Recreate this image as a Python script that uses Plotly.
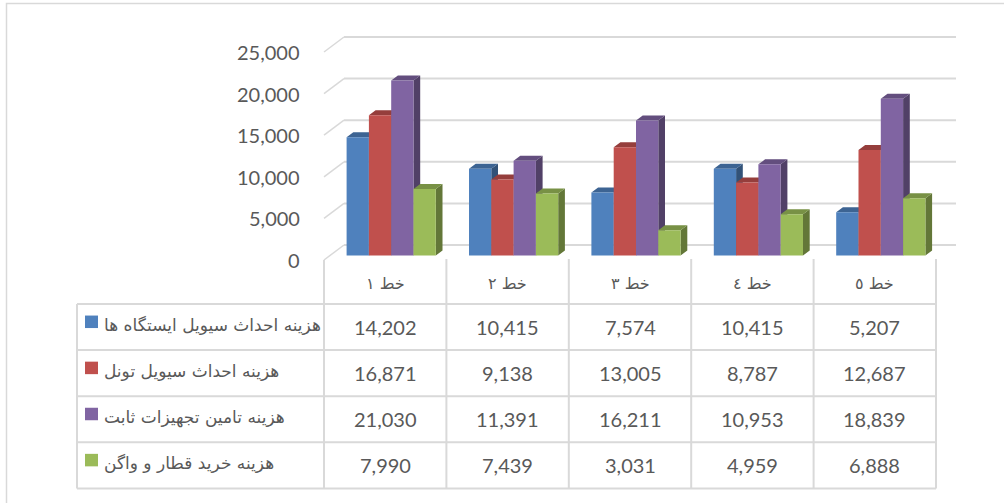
import plotly.graph_objects as go

# ---------------- data ----------------
categories = ["خط ١", "خط ٢", "خط ٣", "خط ٤", "خط ٥"]
series_names = [
    "هزینه احداث سیویل ایستگاه ها",
    "هزینه احداث سیویل تونل",
    "هزینه تامین تجهیزات ثابت ",
    "هزینه خرید قطار و واگن",
]
station_civil = [14202, 10415, 7574, 10415, 5207]
tunnel_civil = [16871, 9138, 13005, 8787, 12687]
fixed_equipment = [21030, 11391, 16211, 10953, 18839]
train_purchase = [7990, 7439, 3031, 4959, 6888]
y_ticks = [0, 5000, 10000, 15000, 20000, 25000]

series_values = [station_civil, tunnel_civil, fixed_equipment, train_purchase]

# ---------------- styles ----------------
front_colors = ["#4F81BD", "#C0504D", "#8064A2", "#9BBB59"]


def shade(hexc, f):
    h = hexc.lstrip("#")
    r, g, b = (int(h[i:i + 2], 16) for i in (0, 2, 4))
    return "rgb(%d,%d,%d)" % (r * f, g * f, b * f)


W, H = 1004, 503
PX_CAT = 122.4            # pixels per category
PX_VAL = 41.6 / 5000.0    # pixels per value unit
FX0, FY0 = 324.0, 260.0   # front plane: left edge of first category / zero line (px)

xmin = -0.5 - FX0 / PX_CAT
xmax = xmin + W / PX_CAT
ymax = FY0 / PX_VAL
ymin = ymax - H / PX_VAL

# 3D projection offsets (px -> data units)
BACK_DX, BACK_DY = 20 / PX_CAT, 15 / PX_VAL
BAR_DX, BAR_DY = 6 / PX_CAT, 4.5 / PX_VAL
DEP_DX, DEP_DY = 6.7 / PX_CAT, 5 / PX_VAL
BAR_W = 22.3 / PX_CAT

GRID = "#D9D9D9"
TXT = "#595959"
NUM_FONT = dict(family="Lato, 'Open Sans', sans-serif", size=20, color=TXT)
FA_FONT = dict(family="'DejaVu Sans', sans-serif", size=17, color=TXT)
HDR_FONT = dict(family="'DejaVu Sans', sans-serif", size=16, color=TXT)

fig = go.Figure()

n = len(categories)
for j, vals in enumerate(series_values):
    fx, fy, tx, ty, sx, sy = [], [], [], [], [], []
    for i, v in enumerate(vals):
        xl = i - 2 * BAR_W + j * BAR_W + BAR_DX
        xr = xl + BAR_W
        y0 = BAR_DY
        y1 = v + BAR_DY
        fx += [xl, xl, xr, xr, xl, None]
        fy += [y0, y1, y1, y0, y0, None]
        tx += [xl, xl + DEP_DX, xr + DEP_DX, xr, xl, None]
        ty += [y1, y1 + DEP_DY, y1 + DEP_DY, y1, y1, None]
        sx += [xr, xr, xr + DEP_DX, xr + DEP_DX, xr, None]
        sy += [y0, y1, y1 + DEP_DY, y0 + DEP_DY, y0, None]
    for xs, ys, col in ((sx, sy, shade(front_colors[j], 0.64)),
                        (tx, ty, shade(front_colors[j], 0.78)),
                        (fx, fy, front_colors[j])):
        fig.add_trace(go.Scatter(x=xs, y=ys, mode="lines", fill="toself",
                                 fillcolor=col, line=dict(width=0),
                                 hoverinfo="skip", showlegend=False,
                                 name=series_names[j]))

shapes = []
# back wall gridlines + left wall diagonals
for t in y_ticks:
    shapes.append(dict(type="line", xref="x", yref="y", layer="below",
                       x0=-0.5 + BACK_DX, x1=n - 0.5 + BACK_DX,
                       y0=t + BACK_DY, y1=t + BACK_DY,
                       line=dict(color=GRID, width=2)))
    shapes.append(dict(type="line", xref="x", yref="y", layer="below",
                       x0=-0.5, x1=-0.5 + BACK_DX,
                       y0=t, y1=t + BACK_DY,
                       line=dict(color=GRID, width=1.5)))

annotations = []
for t in y_ticks:
    annotations.append(dict(xref="paper", yref="y", x=302 / W, y=t,
                            xanchor="right", yanchor="middle",
                            text=f"{t:,}", showarrow=False, font=NUM_FONT))


def px(xp):
    return xp / W


def py(yp):
    return 1 - yp / H


# ---------------- data table ----------------
TBL_L, TBL_TOP_HDR, TBL_TOP = 77, 259, 304
ROW_H = 46.1
col_edges = [FX0 + PX_CAT * k for k in range(n + 1)]
tbl_bottom = TBL_TOP + ROW_H * len(series_values)

# horizontal lines
for r in range(len(series_values) + 1):
    yy = TBL_TOP + ROW_H * r
    shapes.append(dict(type="line", xref="paper", yref="paper",
                       x0=px(TBL_L), x1=px(col_edges[-1]), y0=py(yy), y1=py(yy),
                       line=dict(color=GRID, width=2)))
# vertical lines
shapes.append(dict(type="line", xref="paper", yref="paper",
                   x0=px(TBL_L), x1=px(TBL_L), y0=py(TBL_TOP), y1=py(tbl_bottom),
                   line=dict(color=GRID, width=2)))
for k, ce in enumerate(col_edges):
    shapes.append(dict(type="line", xref="paper", yref="paper",
                       x0=px(ce), x1=px(ce),
                       y0=py(FY0 if k == 0 else TBL_TOP_HDR), y1=py(tbl_bottom),
                       line=dict(color=GRID, width=2)))

# header (category) labels
for i, c in enumerate(categories):
    annotations.append(dict(xref="paper", yref="paper",
                            x=px(FX0 + PX_CAT * (i + 0.5)), y=py(283),
                            text=c, showarrow=False, xanchor="center",
                            yanchor="middle", font=HDR_FONT))

# rows
for j, (name, vals) in enumerate(zip(series_names, series_values)):
    yc = TBL_TOP + ROW_H * (j + 0.5)
    shapes.append(dict(type="rect", xref="paper", yref="paper",
                       x0=px(85), x1=px(98), y0=py(yc - 11.5), y1=py(yc + 1),
                       fillcolor=front_colors[j], line=dict(width=0)))
    annotations.append(dict(xref="paper", yref="paper", x=px(102), y=py(yc - 2),
                            text=name, showarrow=False, xanchor="left",
                            yanchor="middle", font=FA_FONT))
    for i, v in enumerate(vals):
        annotations.append(dict(xref="paper", yref="paper",
                                x=px(FX0 + PX_CAT * (i + 0.5)), y=py(yc),
                                text=f"{v:,}", showarrow=False,
                                xanchor="center", yanchor="middle",
                                font=NUM_FONT))

# outer chart border
shapes.append(dict(type="rect", xref="paper", yref="paper",
                   x0=px(6.5), x1=px(W + 10), y0=py(H + 10), y1=py(3.5),
                   line=dict(color=GRID, width=1.5)))

fig.update_layout(
    width=W, height=H,
    margin=dict(l=0, r=0, t=0, b=0, pad=0),
    paper_bgcolor="white", plot_bgcolor="white",
    xaxis=dict(range=[xmin, xmax], visible=False, fixedrange=True),
    yaxis=dict(range=[ymin, ymax], visible=False, fixedrange=True),
    shapes=shapes, annotations=annotations, showlegend=False,
)

fig.write_html("out.html", config={"displayModeBar": False},
               post_script="document.body.style.margin='0';")
